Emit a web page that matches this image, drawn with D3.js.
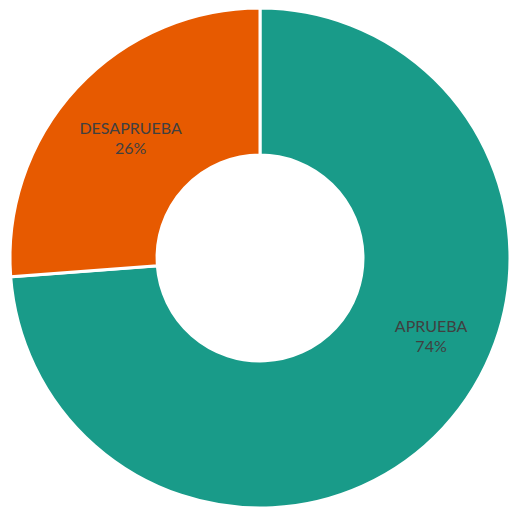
<!DOCTYPE html>
<html>
<head>
<meta charset="utf-8">
<script src="https://cdn.jsdelivr.net/npm/d3@7"></script>
<style>
  html, body { margin: 0; padding: 0; background: #fff; }
  svg { display: block; }
  text { font-family: Lato, "Open Sans", sans-serif; fill: #404040; }
</style>
</head>
<body>
<svg width="511" height="507"></svg>
<script>
var categories = ["APRUEBA", "DESAPRUEBA"];
var values = [73.8, 26.2];
var colors = ["#199B89", "#E75A00"];

var svg = d3.select("svg"),
    width = +svg.attr("width"),
    height = +svg.attr("height");

var cx = 260, cy = 258,
    outer = 250, inner = 103;

var data = categories.map(function(c, i) {
  return { name: c, value: values[i], color: colors[i] };
});

var pie = d3.pie()
  .sort(null)
  .value(function(d) { return d.value; });

var arc = d3.arc()
  .innerRadius(inner)
  .outerRadius(outer);

var total = d3.sum(values);

var g = svg.append("g")
  .attr("transform", "translate(" + cx + "," + cy + ")");

var arcs = pie(data);

g.selectAll("path")
  .data(arcs)
  .enter().append("path")
  .attr("d", arc)
  .attr("fill", function(d) { return d.data.color; })
  .attr("stroke", "#fff")
  .attr("stroke-width", 3)
  .attr("stroke-linejoin", "miter");

// etiquetas: la grande se coloca mas arriba (como Excel "mejor ajuste")
function labelPos(d) {
  var a = (d.startAngle + d.endAngle) / 2, r = (inner + outer) / 2;
  if (d.endAngle - d.startAngle > Math.PI) { a = d.startAngle + (d.endAngle - d.startAngle) * 0.431; r = 188; }
  return [Math.sin(a) * r, -Math.cos(a) * r];
}

var lab = g.selectAll("g.label")
  .data(arcs)
  .enter().append("g")
  .attr("class", "label")
  .attr("transform", function(d) {
    var p = labelPos(d);
    return "translate(" + p[0] + "," + p[1] + ")";
  });

lab.append("text")
  .attr("text-anchor", "middle")
  .attr("y", -4)
  .style("font-size", "16px")
  .text(function(d) { return d.data.name; });

lab.append("text")
  .attr("text-anchor", "middle")
  .attr("y", 16)
  .style("font-size", "16px")
  .text(function(d) { return Math.round(d.data.value / total * 100) + "%"; });
</script>
</body>
</html>
